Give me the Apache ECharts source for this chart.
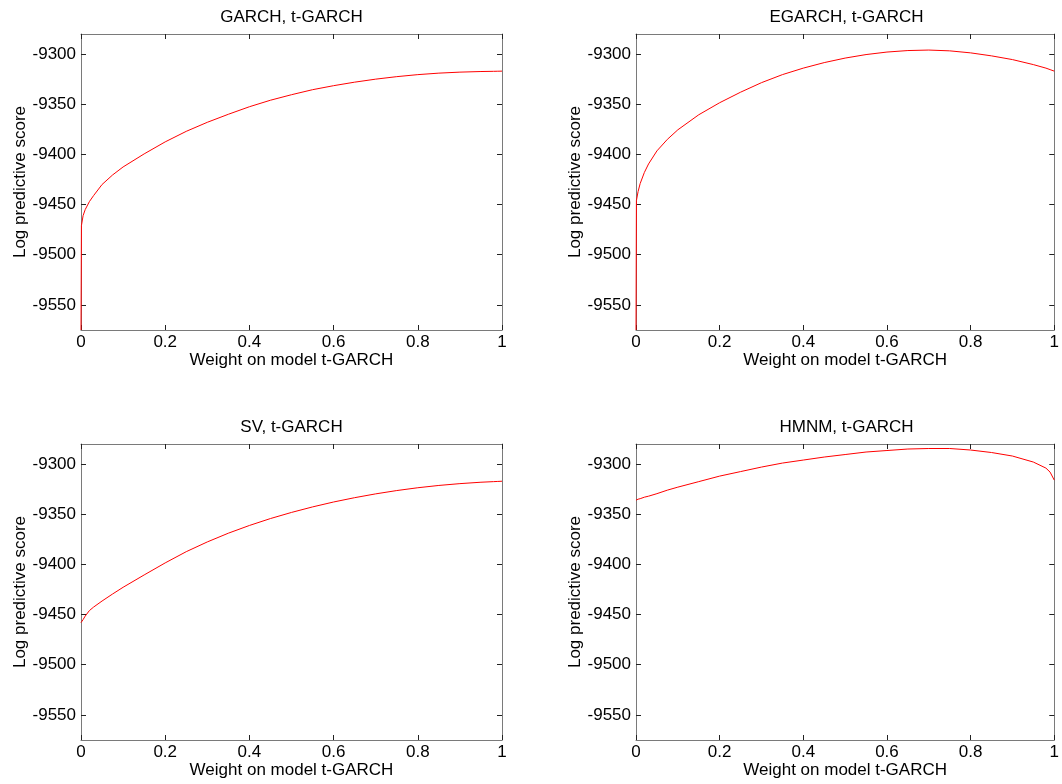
<!DOCTYPE html>
<html>
<head>
<meta charset="utf-8">
<script src="https://cdn.jsdelivr.net/npm/echarts@6/dist/echarts.min.js"></script>
<style>
  html, body { margin: 0; padding: 0; background: #fff; }
  #chart { width: 1062px; height: 784px; }
</style>
</head>
<body>
<div id="chart"></div>
<script>
// weights on model t-GARCH (shared x positions)
var weights = [0, 0.001, 0.005, 0.01, 0.02, 0.03, 0.05, 0.075, 0.1, 0.15, 0.2, 0.25, 0.3, 0.35,
    0.4, 0.45, 0.5, 0.55, 0.6, 0.65, 0.7, 0.75, 0.8, 0.85, 0.9, 0.95, 0.98, 0.99, 1];

// log predictive score
var garch = [-9575, -9471, -9461, -9455, -9447, -9441, -9430, -9420.5, -9412.5, -9399.5, -9387.5, -9377, -9368, -9360,
    -9352.5, -9346, -9340.5, -9335.5, -9331.5, -9328, -9325, -9322.5, -9320.5, -9319, -9318, -9317.4, -9317.2, -9317.1, -9317];
var egarch = [-9575, -9446, -9437, -9429, -9418, -9409.5, -9396.5, -9385, -9375.5, -9360.5, -9348.5, -9338, -9328.5, -9320.5,
    -9314, -9308.5, -9304, -9300.5, -9298, -9296.5, -9296, -9296.8, -9298.8, -9301.8, -9305.5, -9310.5, -9314, -9315.5, -9317];
var sv = [-9458, -9457.5, -9455, -9451.5, -9446, -9442.5, -9436.5, -9429.5, -9422.8, -9410.5, -9398.5, -9387.3, -9377.6, -9368.9,
    -9361.2, -9354.3, -9348.2, -9342.7, -9337.8, -9333.5, -9329.7, -9326.4, -9323.6, -9321.3, -9319.5, -9318.1, -9317.5, -9317.3, -9317.1];
var hmnm = [-9336, -9335.8, -9335, -9334.5, -9333, -9332, -9329.5, -9326, -9323, -9317.5, -9312, -9307.5, -9303, -9299,
    -9296, -9293, -9290.5, -9288, -9286.5, -9285, -9284.5, -9284.5, -9286, -9288.5, -9292, -9298, -9304, -9308, -9316];

var titles = ['GARCH, t-GARCH', 'EGARCH, t-GARCH', 'SV, t-GARCH', 'HMNM, t-GARCH'];
var yTicks = [-9550, -9500, -9450, -9400, -9350, -9300];
var yMin = -9575, yMax = -9280;

var font = 'Arial, "Liberation Sans", sans-serif';
var fs = 17;

var panels = [
    { left: 81, top: 34, data: garch },
    { left: 636, top: 34, data: egarch },
    { left: 81, top: 444, data: sv },
    { left: 636, top: 444, data: hmnm }
];
var W = 421, H = 296;

function pairs(vals) {
    return weights.map(function (w, i) { return [w, vals[i]]; });
}

var option = {
    backgroundColor: '#fff',
    animation: false,
    title: [], grid: [], xAxis: [], yAxis: [], series: []
};

panels.forEach(function (p, i) {
    option.title.push({
        text: titles[i],
        left: p.left + W / 2, top: p.top - 25,
        textAlign: 'center', padding: 0,
        textStyle: { fontFamily: font, fontSize: fs, fontWeight: 'normal', color: '#000' }
    });
    option.grid.push({ left: p.left, top: p.top, width: W, height: H, containLabel: false });

    var lineStyle = { color: '#7a7a7a', width: 1 };
    var tick = { inside: true, length: 5, lineStyle: { color: '#222' } };

    // bottom x axis
    option.xAxis.push({
        type: 'value', gridIndex: i, position: 'bottom',
        min: 0, max: 1, interval: 0.2,
        name: 'Weight on model t-GARCH', nameLocation: 'middle', nameGap: 22,
        nameTextStyle: { fontFamily: font, fontSize: fs, color: '#000' },
        axisLine: { show: true, onZero: false, lineStyle: lineStyle },
        axisTick: tick,
        axisLabel: { fontFamily: font, fontSize: fs, color: '#000', margin: 4 },
        splitLine: { show: false }
    });
    // top x axis (box)
    option.xAxis.push({
        type: 'value', gridIndex: i, position: 'top',
        min: 0, max: 1, interval: 0.2,
        axisLine: { show: true, onZero: false, lineStyle: lineStyle },
        axisTick: tick,
        axisLabel: { show: false },
        splitLine: { show: false }
    });
    // left y axis
    option.yAxis.push({
        type: 'value', gridIndex: i, position: 'left',
        min: yMin, max: yMax,
        name: 'Log predictive score', nameLocation: 'middle', nameGap: 48,
        nameTextStyle: { fontFamily: font, fontSize: fs, color: '#000' },
        axisLine: { show: true, onZero: false, lineStyle: lineStyle },
        axisTick: { inside: true, length: 5, lineStyle: { color: '#222' }, customValues: yTicks },
        axisLabel: {
            fontFamily: font, fontSize: fs, color: '#000', margin: 5, customValues: yTicks,
            formatter: function (v) { return String(v); }
        },
        splitLine: { show: false }
    });
    // right y axis (box)
    option.yAxis.push({
        type: 'value', gridIndex: i, position: 'right',
        min: yMin, max: yMax,
        axisLine: { show: true, onZero: false, lineStyle: lineStyle },
        axisTick: { inside: true, length: 5, lineStyle: { color: '#222' }, customValues: yTicks },
        axisLabel: { show: false },
        splitLine: { show: false }
    });

    option.series.push({
        type: 'line',
        xAxisIndex: i * 2, yAxisIndex: i * 2,
        data: pairs(p.data),
        showSymbol: false, symbol: 'none',
        lineStyle: { color: '#ff0000', width: 1 },
        clip: true
    });
});

var myChart = echarts.init(document.getElementById('chart'));
myChart.setOption(option);
</script>
</body>
</html>
